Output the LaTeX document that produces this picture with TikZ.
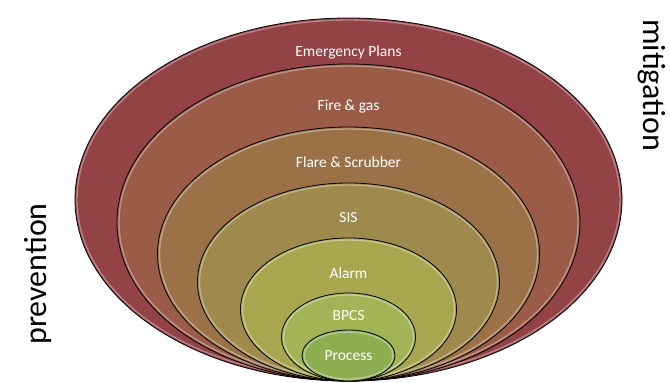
\documentclass[tikz,border=0pt]{standalone}
\usepackage{fontspec}
\setmainfont{Carlito}
\usetikzlibrary{shapes.geometric}
\definecolor{c1}{HTML}{934246}
\definecolor{c2}{HTML}{9A5B47}
\definecolor{c3}{HTML}{9B7248}
\definecolor{c4}{HTML}{9E8A4C}
\definecolor{c5}{HTML}{A9A650}
\definecolor{c6}{HTML}{A3B457}
\definecolor{c7}{HTML}{8EAE52}
\tikzset{
  layer/.style={ellipse, draw=black, line width=0.8pt, inner sep=0pt},
  rim/.style={ellipse, draw=white, draw opacity=0.35, line width=1.4pt, inner sep=0pt},
  lbl/.style={text=white, font=\fontsize{15.5}{17}\selectfont, inner sep=0pt},
  side/.style={text=black, font=\fontsize{32}{35}\selectfont, inner sep=0pt}
}
\begin{document}
\begin{tikzpicture}[x=1pt,y=-1pt]
\useasboundingbox (0,0) rectangle (670,383);
\fill[white] (0,0) rectangle (670,383);
\foreach \n/\cy/\rx/\ry/\c in {e1/199.5/273.5/181.5/c1, e2/222.5/231.5/158.5/c2, e3/254/191/127/c3, e4/282/151/99/c4, e5/309.5/108/71.5/c5, e6/337/67/44/c6, e7/355.5/46.5/25.5/c7}{
  \node[layer, fill=\c, minimum width=2*\rx pt, minimum height=2*\ry pt] (\n) at (348.5,\cy) {};
  \node[rim, minimum width=2*\rx pt-4pt, minimum height=2*\ry pt-4pt] (\n r) at (348.5,\cy) {};
}
\node[lbl] (t1) at (348.5,52) {Emergency Plans};
\node[lbl] (t2) at (348.5,106) {Fire \& gas};
\node[lbl] (t3) at (348.5,162) {Flare \& Scrubber};
\node[lbl] (t4) at (348.5,218) {SIS};
\node[lbl] (t5) at (348.5,273) {Alarm};
\node[lbl] (t6) at (348.5,316) {BPCS};
\node[lbl] (t7) at (348.5,356) {Process};
\node[side, rotate=90] (prev) at (38,274) {prevention};
\node[side, rotate=-90] (miti) at (652,85) {mitigation};
\end{tikzpicture}
\end{document}
